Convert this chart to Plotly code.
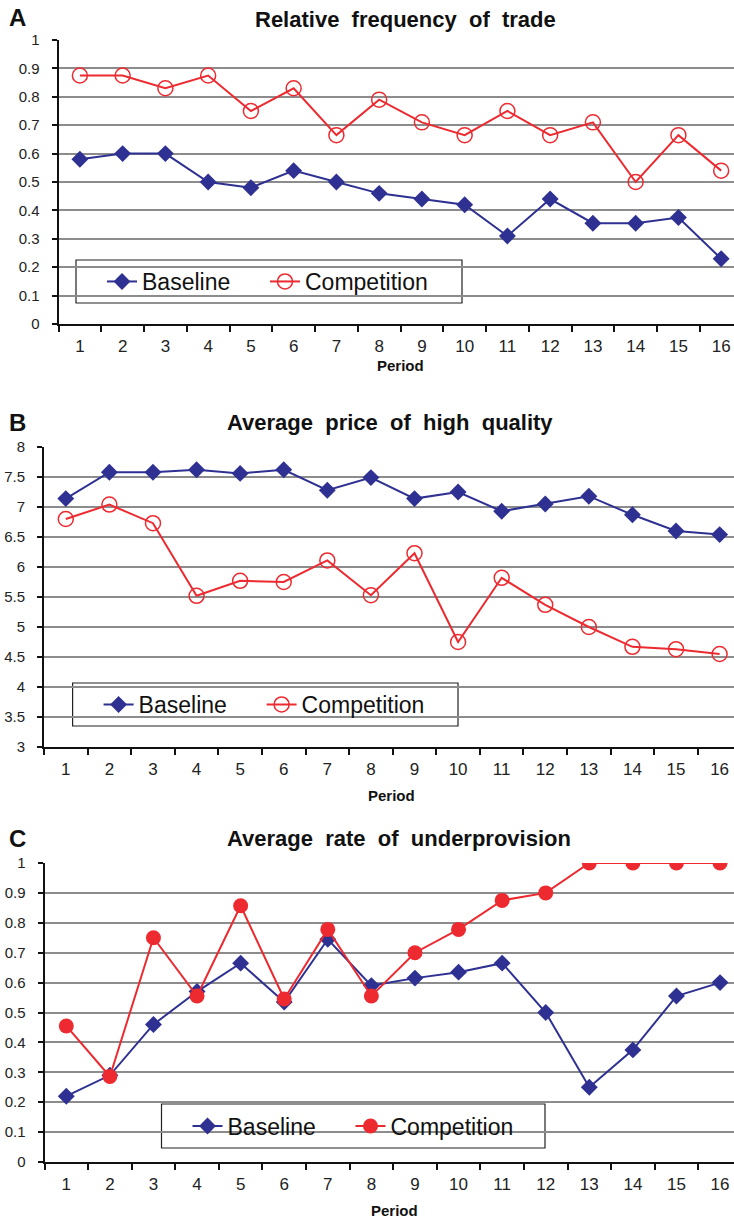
import plotly.graph_objects as go

periods = list(range(1, 17))
period_labels = [str(p) for p in periods]

# Panel A: Relative frequency of trade
trade_baseline = [0.58, 0.60, 0.60, 0.50, 0.48, 0.54, 0.50, 0.46, 0.44, 0.42, 0.31, 0.44, 0.355, 0.355, 0.375, 0.23]
trade_competition = [0.875, 0.875, 0.83, 0.875, 0.75, 0.83, 0.665, 0.79, 0.71, 0.665, 0.75, 0.665, 0.71, 0.50, 0.665, 0.54]

# Panel B: Average price of high quality
price_baseline = [7.14, 7.58, 7.58, 7.62, 7.56, 7.62, 7.28, 7.49, 7.14, 7.25, 6.93, 7.05, 7.18, 6.87, 6.60, 6.54]
price_competition = [6.80, 7.04, 6.73, 5.52, 5.77, 5.75, 6.11, 5.53, 6.23, 4.75, 5.82, 5.37, 5.00, 4.67, 4.63, 4.55]

# Panel C: Average rate of underprovision
under_baseline = [0.22, 0.29, 0.46, 0.57, 0.665, 0.535, 0.745, 0.59, 0.615, 0.635, 0.665, 0.50, 0.25, 0.375, 0.555, 0.60]
under_competition = [0.455, 0.286, 0.75, 0.555, 0.857, 0.545, 0.778, 0.555, 0.70, 0.778, 0.875, 0.90, 1.0, 1.0, 1.0, 1.0]

panel_titles = ["Relative  frequency  of  trade", "Average  price  of  high  quality", "Average  rate  of  underprovision"]
panel_letters = ["A", "B", "C"]
series_names = ["Baseline", "Competition"]

NAVY = "#2E3192"
RED = "#EC2A30"
GRID = "#8C8C8C"
FONT = "Arial, Liberation Sans, sans-serif"
W, H = 734, 1218

def py(p):
    return 1 - p / H

def px(p):
    return p / W

fig = go.Figure()

panels = [
    dict(base=trade_baseline, comp=trade_competition, filled=False, ax="", leg="legend"),
    dict(base=price_baseline, comp=price_competition, filled=False, ax="2", leg="legend2"),
    dict(base=under_baseline, comp=under_competition, filled=True, ax="3", leg="legend3"),
]

for i, p in enumerate(panels):
    xa = "x" + p["ax"]
    ya = "y" + p["ax"]
    fig.add_trace(go.Scatter(
        x=periods, y=p["base"], name=series_names[0], mode="lines+markers",
        line=dict(color=NAVY, width=2),
        marker=dict(symbol="diamond", size=13, color=NAVY),
        xaxis=xa, yaxis=ya, legend=p["leg"]))
    if p["filled"]:
        mk = dict(symbol="circle", size=15, color=RED)
    else:
        mk = dict(symbol="circle-open", size=15, color=RED, line=dict(width=1.5, color=RED))
    fig.add_trace(go.Scatter(
        x=periods, y=p["comp"], name=series_names[1], mode="lines+markers",
        line=dict(color=RED, width=2), marker=mk,
        xaxis=xa, yaxis=ya, legend=p["leg"]))

def xaxis_cfg(left_px, rng_end):
    return dict(
        domain=[px(left_px), 1], range=[0.5, rng_end],
        tickmode="array", tickvals=periods, ticktext=period_labels, ticks="",
        tickfont=dict(family=FONT, size=17, color="#222"),
        showline=True, linecolor="#111", linewidth=2,
        showgrid=False, zeroline=False, automargin=False,
        minor=dict(tick0=0.5, dtick=1, ticks="outside", ticklen=6, tickwidth=1.5, tickcolor="#111", showgrid=False),
        ticklabelstandoff=6,
    )

def yaxis_cfg(bottom_px, top_px, rng, dtick, anchor):
    return dict(
        domain=[py(bottom_px), py(top_px)], range=rng, dtick=dtick, tick0=rng[0],
        ticks="outside", ticklen=5, tickwidth=1.5, tickcolor="#111",
        tickfont=dict(family=FONT, size=15, color="#222"),
        showline=True, linecolor="#111", linewidth=2,
        showgrid=True, gridcolor=GRID, gridwidth=2, zeroline=False,
        anchor=anchor, ticklabelstandoff=9, automargin=False,
    )

fig.update_layout(
    width=W, height=H, margin=dict(l=0, r=0, t=0, b=0, autoexpand=False),
    paper_bgcolor="white", plot_bgcolor="white",
    xaxis=dict(**xaxis_cfg(58.5, 16.30), anchor="y"),
    yaxis=yaxis_cfg(324, 40, [0, 1], 0.1, "x"),
    xaxis2=dict(**xaxis_cfg(44, 16.33), anchor="y2"),
    yaxis2=yaxis_cfg(747, 447, [3, 8], 0.5, "x2"),
    xaxis3=dict(**xaxis_cfg(44.5, 16.32), anchor="y3"),
    yaxis3=yaxis_cfg(1162, 863, [0, 1], 0.1, "x3"),
)

# Legend boxes (drawn as shapes between grid and data), legends borderless on top
boxes = [(76, 260, 462, 303), (72.6, 683, 458, 726), (161.5, 1104, 545, 1148)]
leg_common = dict(orientation="h", xanchor="left", yanchor="middle",
                  bgcolor="rgba(0,0,0,0)", borderwidth=0, entrywidth=118,
                  font=dict(family=FONT, size=23, color="#111"))
leg_names = ["legend", "legend2", "legend3"]
leg_layout = {}
for name, (x0, y0, x1, y1) in zip(leg_names, boxes):
    fig.add_shape(type="rect", xref="paper", yref="paper",
                  x0=px(x0), x1=px(x1), y0=py(y0), y1=py(y1),
                  line=dict(color="#222", width=1.2), fillcolor="white", layer="between")
    leg_layout[name] = dict(x=px(x0 + 26), y=py((y0 + y1) / 2), **leg_common)
fig.update_layout(**leg_layout)

# Titles, panel letters and axis titles
title_pos = [(406, 20), (390, 422), (399, 838)]
period_pos = [(400, 366), (391, 795), (394, 1210)]
letter_pos = [(17, 18), (17, 422), (17, 838)]
for i in range(3):
    fig.add_annotation(text="<b>%s</b>" % panel_titles[i], x=px(title_pos[i][0]), y=py(title_pos[i][1]),
                       xref="paper", yref="paper", showarrow=False, xanchor="center", yanchor="middle",
                       font=dict(family=FONT, size=22, color="#111"))
    fig.add_annotation(text="<b>%s</b>" % panel_letters[i], x=px(letter_pos[i][0]), y=py(letter_pos[i][1]),
                       xref="paper", yref="paper", showarrow=False, xanchor="center", yanchor="middle",
                       font=dict(family=FONT, size=24, color="#111"))
    fig.add_annotation(text="<b>Period</b>", x=px(period_pos[i][0]), y=py(period_pos[i][1]),
                       xref="paper", yref="paper", showarrow=False, xanchor="center", yanchor="middle",
                       font=dict(family=FONT, size=15, color="#111"))

fig.write_html("out.html", config={"displayModeBar": False},
               post_script="document.body.style.margin='0';document.body.style.overflow='hidden';")
